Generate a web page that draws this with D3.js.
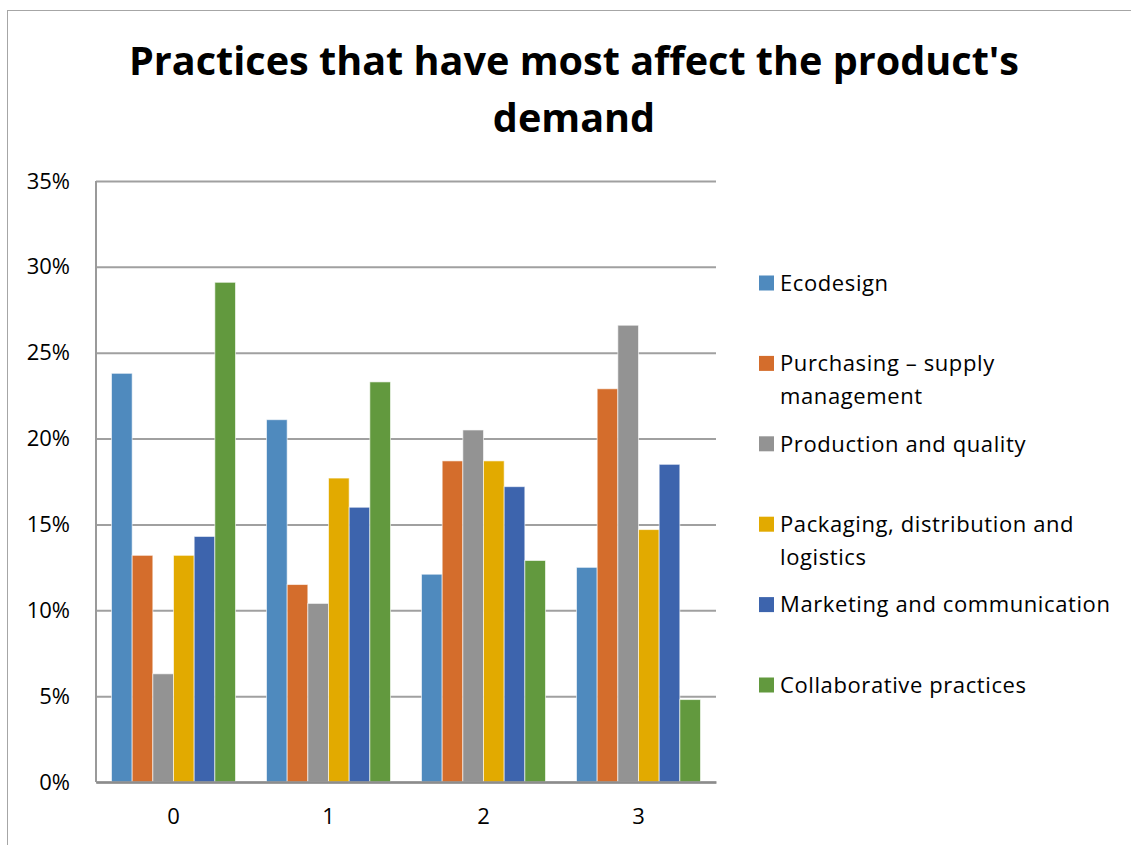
<!DOCTYPE html>
<html>
<head>
<meta charset="utf-8">
<script src="https://d3js.org/d3.v7.min.js"></script>
<style>
  body { margin: 0; background: #fff; }
  text { font-family: "Open Sans", "Noto Sans", sans-serif; }
</style>
</head>
<body>
<svg id="chart"></svg>
<script>
var categories = ['0', '1', '2', '3'];
var seriesNames = [
  'Ecodesign',
  'Purchasing – supply management',
  'Production and quality',
  'Packaging, distribution and logistics',
  'Marketing and communication',
  'Collaborative practices'
];
var seriesColors = ['#4f8abe', '#d46d2c', '#939393', '#e2aa00', '#3d64ad', '#62993e'];
var legendLines = [
  ['Ecodesign'],
  ['Purchasing – supply', 'management'],
  ['Production and quality'],
  ['Packaging, distribution and', 'logistics'],
  ['Marketing and communication'],
  ['Collaborative practices']
];
// one array per series, one value per category (0..3)
var ecodesign     = [0.238, 0.211, 0.121, 0.125];
var purchasing    = [0.132, 0.115, 0.187, 0.229];
var production    = [0.063, 0.104, 0.205, 0.266];
var packaging     = [0.132, 0.177, 0.187, 0.147];
var marketing     = [0.143, 0.160, 0.172, 0.185];
var collaborative = [0.291, 0.233, 0.129, 0.048];
var seriesValues = [ecodesign, purchasing, production, packaging, marketing, collaborative];
var yTicks = [0, 0.05, 0.10, 0.15, 0.20, 0.25, 0.30, 0.35];

var width = 1131;
var height = 845;
var margin = { top: 181, left: 96, right: 1131 - 716, bottom: 845 - 782 };

var svg = d3.select('#chart')
  .attr('width', width)
  .attr('height', height);

// chart frame
svg.append('rect')
  .attr('x', 7.5)
  .attr('y', 10.5)
  .attr('width', width)
  .attr('height', height)
  .style('fill', 'none')
  .style('stroke', '#a6a6a6')
  .style('stroke-width', '1px');

// title
var title = svg.append('text')
  .attr('x', 574)
  .attr('text-anchor', 'middle')
  .style('font-size', '39.6px')
  .style('font-weight', 'bold')
  .style('fill', '#000');
title.append('tspan').attr('x', 574).attr('y', 75).text("Practices that have most affect the product's");
title.append('tspan').attr('x', 574).attr('y', 132).text('demand');

var x0 = d3.scaleBand()
  .domain(categories)
  .range([margin.left, width - margin.right])
  .paddingInner(0.2)
  .paddingOuter(0.1);

var x1 = d3.scaleBand()
  .domain(d3.range(seriesNames.length))
  .range([0, x0.bandwidth()]);

var y = d3.scaleLinear()
  .domain([0, 0.35])
  .range([height - margin.bottom, margin.top]);

// gridlines
var yAxis = d3.axisLeft(y)
  .tickValues(yTicks)
  .tickSize(-(width - margin.right - margin.left))
  .tickPadding(26)
  .tickFormat(d3.format('.0%'));

var gy = svg.append('g')
  .attr('transform', `translate(${margin.left},0)`)
  .call(yAxis);
gy.select('.domain').remove();
gy.selectAll('.tick line')
  .style('stroke', '#a0a0a0')
  .style('stroke-width', '2px');
gy.selectAll('.tick text')
  .style('font-family', '"Open Sans", sans-serif')
  .style('font-size', '22px')
  .style('fill', '#000');

// left axis line
svg.append('line')
  .attr('x1', margin.left)
  .attr('x2', margin.left)
  .attr('y1', y(0.35))
  .attr('y2', y(0))
  .style('stroke', '#9a9a9a')
  .style('stroke-width', '2px');

// bars
var groups = svg.selectAll('.group')
  .data(categories)
  .enter()
  .append('g')
  .attr('class', 'group')
  .attr('transform', function(d) {
    return `translate(${x0(d)},0)`;
  });

groups.selectAll('rect')
  .data(function(d, i) {
    return seriesValues.map(function(vals, s) {
      return { s: s, v: vals[i] };
    });
  })
  .enter()
  .append('rect')
  .attr('x', function(d) { return x1(d.s); })
  .attr('y', function(d) { return y(d.v); })
  .attr('width', x1.bandwidth())
  .attr('height', function(d) { return y(0) - y(d.v); })
  .style('fill', function(d) { return seriesColors[d.s]; })
  .style('stroke', 'rgba(255,255,255,0.6)')
  .style('stroke-width', '1px');

// x axis
var gx = svg.append('g')
  .attr('transform', `translate(0,${y(0)})`)
  .call(d3.axisBottom(x0).tickSize(0).tickPadding(26));
gx.select('.domain')
  .style('stroke', '#8c8c8c')
  .style('stroke-width', '2.5px');
gx.selectAll('.tick text')
  .style('font-family', '"Open Sans", sans-serif')
  .style('font-size', '22px')
  .style('fill', '#000');

// legend
var legendTop = 283;
var legendStep = 80.4;
var legendRectSize = 15;
var lineHeight = 33;

var legend = svg.selectAll('.legend')
  .data(seriesNames)
  .enter()
  .append('g')
  .attr('class', 'legend')
  .attr('transform', function(d, i) {
    return `translate(759,${legendTop + i * legendStep})`;
  });

legend.append('rect')
  .attr('x', 0)
  .attr('y', -legendRectSize / 2)
  .attr('width', legendRectSize)
  .attr('height', legendRectSize)
  .style('fill', function(d, i) { return seriesColors[i]; });

legend.append('text')
  .attr('x', 21)
  .style('font-size', '22px')
  .style('letter-spacing', '0.6px')
  .style('fill', '#000')
  .each(function(d, i) {
    var t = d3.select(this);
    legendLines[i].forEach(function(line, j) {
      t.append('tspan')
        .attr('x', 21)
        .attr('y', j * lineHeight)
        .attr('dy', '0.35em')
        .text(line);
    });
  });
</script>
</body>
</html>
